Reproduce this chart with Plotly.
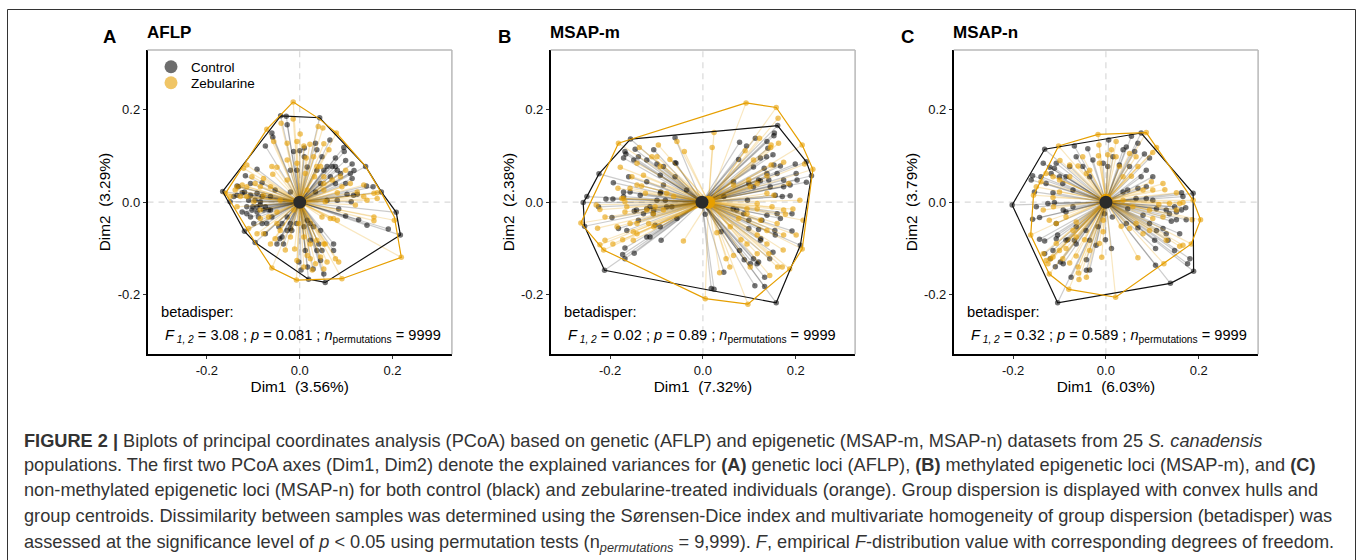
import plotly.graph_objects as go

W, H = 1358, 560
FONT = "Liberation Sans"
BLACK = "#000000"
ORANGE = "#E69F00"

PANEL_LETTERS = ["A", "B", "C"]
PANEL_TITLES = ["AFLP", "MSAP-m", "MSAP-n"]
DIM1_LABELS = ["Dim1\u00a0\u00a0(3.56%)", "Dim1\u00a0\u00a0(7.32%)", "Dim1\u00a0\u00a0(6.03%)"]
DIM2_LABELS = ["Dim2\u00a0\u00a0(3.29%)", "Dim2\u00a0\u00a0(2.38%)", "Dim2\u00a0\u00a0(3.79%)"]
STAT_F = ["3.08", "0.02", "0.32"]
STAT_P = ["0.081", "0.89", "0.589"]
STAT_N = ["9999", "9999", "9999"]
TICK_VALUES = [-0.2, 0.0, 0.2]
TICK_LABELS = ["-0.2", "0.0", "0.2"]
GROUPS = ["Control", "Zebularine"]

CENTROID_CONTROL = [(0.0, 0.0), (-0.002, 0.0), (0.0, 0.0)]
CENTROID_ZEBULARINE = [(0.0, 0.0), (0.012, 0.0), (0.0, 0.004)]

AFLP_CONTROL = [(-.041,.186),(-.029,.185),(.043,.182),(-.060,.149),(-.058,.140),(-.074,.121),(-.027,.167),(.010,.117),(-.013,.109),(0,.111),(.034,.127),(.065,.134),(.095,.118),(.096,.109),(.037,.113),(.048,.098),(.010,.098),(.077,.095),(.099,.090),(.113,.082),(.142,.077),(.081,.069),(.117,.068),(.099,.040),(.113,.051),(.158,.033),(.176,.022),(.144,.035),(.124,.017),(.102,.017),(.077,.040),(.059,.077),(.066,.055),(.034,.022),(.045,.040),(.208,-.022),(.217,-.071),(.191,-.058),(.145,-.050),(.127,-.038),(.099,-.030),(.084,-.015),(.111,.001),(.059,.004),(-.166,.023),(-.135,.035),(-.117,.057),(-.092,.071),(-.081,.042),(-.106,.040),(-.135,.015),(-.119,.022),(-.124,-.021),(-.103,-.017),(-.085,-.006),(-.074,-.010),(-.099,-.046),(-.071,-.046),(-.119,-.063),(-.096,-.087),(-.074,-.068),(-.060,-.032),(-.106,.015),(-.092,-.021),(-.150,.001),(-.063,.012),(-.053,.026),(-.020,.069),(-.020,.022),(-.049,-.090),(-.035,-.090),(-.043,-.079),(-.017,-.061),(-.020,-.046),(.016,-.039),(.023,-.046),(.045,-.061),(.073,-.090),(.037,-.104),(.045,-.126),(.003,-.146),(.017,-.140),(.029,-.144),(.019,-.166),(.055,-.173),(.052,-.155),(-.002,-.129),(.012,-.104),(.023,-.082),(-.114,-.010),(-.096,.004),(-.081,.012),(-.067,-.017),(-.045,-.053),(-.027,-.032),
(-.142,.012),(-.132,.033),(-.124,.020),(-.110,.004),(-.101,-.010),(-.092,-.010),(-.078,-.017),(-.114,-.025),(-.106,-.032),(-.089,-.032),(-.081,-.046),(-.063,-.017),(-.092,.019),(-.085,.001),(-.038,-.046),(-.027,-.061),(-.038,-.075),(-.020,-.057),(-.007,-.046),(.009,-.053),(.030,-.053),(.041,-.090),(.048,-.104),(.073,-.104),(.070,.077),(.088,.062),(.109,.062),(.077,.077),(.116,.015),(.081,.004),(.052,.069),(.037,.069),(.016,.076),(-.006,.069)]
AFLP_ZEBULARINE = [(-.014,.216),(-.071,.157),(-.040,.170),(-.014,.179),(.040,.163),(.050,.160),(.079,.149),(.001,.147),(-.056,.131),(-.027,.127),(-.006,.131),(.009,.121),(.022,.125),(.052,.126),(.063,.113),(.030,.098),(.014,.095),(-.060,.077),(-.049,.075),(-.058,.060),(-.114,.080),(-.121,.073),(-.103,.055),(-.078,.051),(-.085,.033),(-.124,.037),(-.139,.026),(-.160,.019),(-.150,.012),(-.114,.012),(-.063,.033),(-.027,.048),(.012,.062),(.045,.077),(.070,.048),(.099,.069),(.091,.033),(.138,.037),(.167,.020),(.167,.008),(.138,.012),(.120,-.006),(.055,.001),(.204,-.039),(.160,-.032),(.160,-.040),(.081,-.039),(.066,-.035),(.048,-.032),(.219,-.119),(.091,-.165),(.084,-.129),(.059,-.129),(.052,-.144),(.034,-.133),(.027,-.146),(-.007,-.168),(-.060,-.142),(-.006,-.126),(.016,-.115),(.009,-.140),(-.011,-.101),(-.031,-.103),(-.053,-.079),(-.078,-.068),(-.110,-.057),(-.085,-.035),(-.135,-.010),(-.099,.001),(-.049,-.046),(.009,-.075),(.037,-.082),(-.013,-.017),(-.042,.004),(-.049,-.021),(.016,.026),(.052,.026),(.081,.020),(.032,.055),(.052,.040),
(-.128,.012),(-.135,.033),(-.114,.033),(-.096,.040),(-.078,.015),(-.085,-.017),(-.067,-.032),(-.092,-.068),(-.063,-.090),(-.042,-.061),(-.020,-.075),(-.002,-.046),(.023,-.090),(.052,-.090),(.045,-.118),(.077,-.122),(.023,-.122),(.055,-.090),(-.027,.091),(-.006,.084),(.037,.077),(.052,.055),(.088,.055),(.109,.040),(.124,.022),(.145,.004),(.160,.019),(.073,-.035)]
AFLP_HULL_CONTROL = [(-.166,.023),(-.041,.186),(.043,.182),(.142,.077),(.176,.022),(.208,-.022),(.217,-.071),(.055,-.173),(.019,-.166),(-.096,-.087),(-.119,-.063)]
AFLP_HULL_ZEBULARINE = [(-.014,.216),(.043,.179),(.079,.149),(.142,.077),(.176,.020),(.204,-.032),(.219,-.119),(.091,-.165),(-.007,-.168),(-.060,-.142),(-.096,-.087),(-.160,.019),(-.071,.157)]

MSAPM_CONTROL = [(.161,.165),(.154,.149),(.153,.143),(.113,.138),(.138,.131),(.079,.129),(.094,.121),(.140,.116),(.137,.098),(.151,.102),(.077,.092),(.124,.095),(.132,.073),(.153,.080),(.167,.078),(.199,.082),(.201,.062),(.223,.043),(.188,.037),(.174,.048),(.142,.048),(.124,.046),(.099,.040),(.109,.033),(.156,.015),(.188,.014),(.171,.012),(.096,.004),(.045,.012),(.145,.033),(.223,.087),(.234,.057),(.065,-.014),(.088,-.025),(.127,-.039),(.099,-.039),(.099,-.057),(.120,-.059),(.155,-.061),(.192,-.062),(.156,-.071),(.125,-.079),(.151,-.108),(.079,-.104),(.210,-.093),(.089,-.124),(.102,-.133),(.120,-.129),(.144,-.122),(.045,-.151),(.112,-.180),(.133,-.162),(.133,-.182),(.158,-.217),(.018,-.186),(.024,-.188),(.005,-.026),(.039,-.064),(-.156,.136),(-.060,.139),(-.146,.114),(-.168,.109),(-.166,.104),(-.139,.098),(-.106,.113),(-.099,.082),(-.060,.085),(-.058,.084),(-.224,.061),(-.193,.042),(-.160,.055),(-.121,.044),(-.092,.058),(-.085,.037),(-.171,.022),(-.135,.015),(-.092,.019),(-.035,.026),(-.258,-.001),(-.250,.012),(-.209,.007),(-.194,.007),(-.225,-.010),(-.255,-.052),(-.196,-.033),(-.148,-.019),(-.139,-.039),(-.121,-.014),(-.106,-.017),(-.078,-.010),(-.182,-.057),(-.164,-.061),(-.103,-.050),(-.092,-.053),(-.121,-.075),(-.090,-.082),(-.168,-.099),(-.148,-.110),(-.173,-.113),(-.168,-.122),(-.212,-.147),(-.056,-.035),
(-.171,.012),(-.157,.022),(-.143,-.017),(-.128,-.025),(-.114,-.010),(-.107,-.025),(-.099,.004),(-.081,.004),(-.091,.022),(-.067,-.010),(-.149,.091),(-.171,.095),(-.121,.091),(-.085,.077),(-.060,.055),(-.114,-.075),(.109,.076),(.120,.048),(.138,.062),(.160,.062),(.174,.033),(.203,.048),(.192,-.025),(.160,-.025),(.138,-.028),(.124,-.082),(.109,-.122),(.117,-.133),(.167,-.035),(.073,-.017),(.066,.044)]
MSAPM_ZEBULARINE = [(.093,.214),(.158,.204),(.162,.181),(.024,.150),(.020,.118),(-.056,.131),(-.040,.109),(-.182,.127),(-.096,.123),(-.137,.118),(-.110,.098),(-.071,.092),(-.178,.075),(-.142,.084),(-.153,.055),(-.128,.058),(-.092,.077),(-.183,.030),(-.157,.030),(-.132,.035),(-.171,.008),(-.168,.001),(-.230,-.006),(-.222,-.016),(-.211,-.032),(-.263,-.045),(-.227,-.056),(-.211,-.082),(-.194,-.090),(-.222,-.092),(-.214,-.103),(-.173,-.081),(-.150,-.082),(-.142,-.068),(-.117,-.046),(-.106,-.053),(-.103,-.010),(-.168,-.021),(-.157,-.046),(-.042,-.084),(-.121,-.017),(-.063,.012),(.214,.123),(.237,.071),(.174,.086),(.147,.080),(.109,.091),(.122,.138),(.091,.111),(.147,.123),(.163,.127),(.185,.040),(.138,.057),(.099,.048),(.066,.037),(.219,.082),(.209,.004),(.117,-.003),(.117,-.014),(.149,-.010),(.194,-.015),(.178,-.026),(.095,-.014),(.216,-.039),(.201,-.071),(.174,-.071),(.214,-.101),(.173,-.103),(.117,-.071),(.082,-.081),(.066,-.115),(.142,-.111),(.036,-.152),(.058,-.140),(.102,-.140),(.161,-.140),(.171,-.140),(.187,-.144),(.144,-.158),(.097,-.220),(.005,-.208),(.030,-.066),(.050,-.122),
(-.142,.037),(-.099,.098),(-.175,.008),(-.164,-.010),(-.142,-.046),(-.185,-.053),(-.150,-.064),(-.107,-.025),(-.085,-.017),(-.078,.019),(-.124,.019),(.153,.015),(.138,.019),(.102,.033),(.117,.040),(.174,-.017),(.160,-.046),(.138,-.061),(.124,-.039),(.095,-.025),(.077,-.035),(.095,-.090),(.117,-.111),(.138,-.090),(.059,-.053),(.146,.118)]
MSAPM_HULL_CONTROL = [(-.258,-.001),(-.250,.012),(-.224,.061),(-.156,.136),(.161,.165),(.223,.087),(.234,.057),(.210,-.093),(.158,-.217),(-.212,-.147),(-.255,-.052)]
MSAPM_HULL_ZEBULARINE = [(.093,.214),(.158,.204),(.214,.123),(.237,.071),(.214,-.101),(.187,-.144),(.097,-.220),(.005,-.208),(-.214,-.103),(-.263,-.045),(-.182,.127)]

MSAPN_CONTROL = [(-.132,.114),(-.068,.121),(-.039,.115),(.006,.134),(.076,.149),(.055,.142),(.037,.113),(.069,.127),(.062,.109),(-.028,.091),(-.064,.098),(-.006,.084),(.029,.080),(.083,.104),(.094,.095),(-.135,.084),(-.121,.075),(-.111,.073),(-.158,.057),(-.161,.048),(-.118,.062),(-.086,.055),(-.093,.040),(-.129,.040),(-.154,.022),(-.114,.020),(-.071,.026),(-.202,-.006),(.101,.055),(.087,.033),(.069,.030),(.037,.022),(.163,.020),(.188,.019),(.065,.008),(.087,.008),(.172,-.012),(.152,-.021),(.137,-.025),(.173,-.038),(.152,-.038),(.141,-.041),(.109,-.014),(.080,-.028),(.047,-.014),(-.158,-.037),(-.143,-.033),(-.086,-.021),(-.071,-.010),(-.111,-.001),(.123,-.057),(.109,-.061),(.069,-.055),(.044,-.046),(.014,-.032),(-.003,-.025),(-.143,-.080),(-.132,-.084),(-.107,-.079),(-.104,-.071),(-.082,-.081),(-.068,-.082),(-.035,-.082),(-.001,-.081),(-.021,-.093),(.012,-.100),(.107,-.100),(.134,-.082),(.148,-.104),(.181,-.122),(.176,-.133),(.189,-.149),(.139,-.175),(.107,-.136),(-.132,-.111),(-.114,-.104),(-.098,-.129),(-.109,-.139),(-.075,-.162),(-.042,-.147),(-.035,-.146),(-.104,-.217),(-.042,-.124),(-.064,-.090),
(-.140,.055),(-.107,.084),(-.100,.055),(-.078,.077),(-.050,.077),(-.035,.055),(.004,.077),(.015,.098),(.044,.119),(.051,.077),(.076,.055),(.087,.069),(.047,.026),(.101,.004),(.130,-.017),(.148,-.010),(.163,-.017),(.166,.012),(.094,-.046),(.105,-.082),(.130,-.068),(.159,-.068),(-.150,-.010),(-.107,-.046),(-.064,-.053),(-.086,-.082),(-.120,-.122),(-.092,-.133),(-.043,-.061),(-.017,-.053),(-.092,-.017),(-.125,-.003)]
MSAPN_ZEBULARINE = [(-.017,.146),(.087,.150),(-.102,.121),(.022,.131),(-.015,.123),(.109,.118),(.101,.107),(-.016,.100),(.004,.102),(.012,.113),(-.050,.098),(-.099,.090),(-.078,.080),(-.060,.078),(-.035,.069),(.029,.077),(.055,.056),(-.140,.044),(-.100,.048),(-.129,.062),(-.156,.015),(-.100,.022),(-.114,.010),(.123,.040),(.127,.027),(.098,.044),(.080,.026),(.152,.020),(.166,-.001),(.114,-.005),(.188,.004),(.204,-.038),(.186,-.038),(.123,-.032),(.101,-.035),(-.113,-.010),(-.135,-.017),(-.122,-.039),(-.064,-.043),(.033,-.052),(.051,-.057),(-.162,-.071),(-.006,-.064),(-.046,-.081),(.184,-.090),(.166,-.093),(.159,-.095),(.069,-.120),(.125,-.133),(-.009,-.119),(-.135,-.111),(-.125,-.133),(-.119,-.122),(-.129,-.126),(-.114,-.118),(-.093,-.122),(-.078,-.131),(-.122,-.155),(-.080,-.188),(-.060,-.140),(-.059,-.153),(-.058,-.167),(.021,-.205),(-.086,-.100),(-.064,-.075),(-.006,-.039),(.058,-.010),(.037,.004),(.069,.077),
(-.150,.033),(-.114,.055),(-.078,.055),(-.042,.062),(-.014,.084),(.022,.098),(.051,.105),(.065,.098),(.037,.055),(.101,.026),(.137,-.003),(.152,-.017),(.159,-.003),(.094,-.017),(.065,-.046),(.094,-.061),(.080,-.068),(.130,-.082),(-.107,-.046),(-.086,-.032),(-.071,-.061),(-.035,-.104),(-.014,-.089),(-.100,-.104),(-.064,-.116),(-.107,-.089),(-.042,-.162)]
MSAPN_HULL_CONTROL = [(-.202,-.006),(-.132,.114),(.076,.149),(.188,.019),(.189,-.149),(.139,-.175),(-.104,-.217)]
MSAPN_HULL_ZEBULARINE = [(-.102,.121),(-.017,.146),(.087,.150),(.109,.118),(.188,.004),(.204,-.038),(.184,-.090),(.021,-.205),(-.080,-.188),(-.122,-.155),(-.162,-.071),(-.156,.015)]

CONTROLS = [AFLP_CONTROL, MSAPM_CONTROL, MSAPN_CONTROL]
ZEBULARINES = [AFLP_ZEBULARINE, MSAPM_ZEBULARINE, MSAPN_ZEBULARINE]
HULLS_CONTROL = [AFLP_HULL_CONTROL, MSAPM_HULL_CONTROL, MSAPN_HULL_CONTROL]
HULLS_ZEBULARINE = [AFLP_HULL_ZEBULARINE, MSAPM_HULL_ZEBULARINE, MSAPN_HULL_ZEBULARINE]

CAPTION = [
    "<b>FIGURE 2 |</b> Biplots of principal coordinates analysis (PCoA) based on genetic (AFLP) and epigenetic (MSAP-m, MSAP-n) datasets from 25 <i>S. canadensis</i>",
    "populations. The first two PCoA axes (Dim1, Dim2) denote the explained variances for <b>(A)</b> genetic loci (AFLP), <b>(B)</b> methylated epigenetic loci (MSAP-m), and <b>(C)</b>",
    "non-methylated epigenetic loci (MSAP-n) for both control (black) and zebularine-treated individuals (orange). Group dispersion is displayed with convex hulls and",
    "group centroids. Dissimilarity between samples was determined using the S\u00f8rensen-Dice index and multivariate homogeneity of group dispersion (betadisper) was",
    "assessed at the significance level of <i>p</i> &lt; 0.05 using permutation tests (n<sub><i>permutations</i></sub> = 9,999). <i>F</i>, empirical <i>F</i>-distribution value with corresponding degrees of freedom.",
]
CAPTION_Y = [441, 465, 490, 516, 543]

PANEL_LEFT = [147.5, 550.7, 953.7]
PANEL_WIDTH = 304.4
PANEL_TOP, PANEL_BOTTOM = 50.0, 354.3
AX_RANGE = [-0.328, 0.328]


def px(x): return x / W
def py(y): return 1 - y / H


fig = go.Figure()


def spokes(points, centre):
    xs, ys = [], []
    for x, y in points:
        xs += [x, centre[0], None]
        ys += [y, centre[1], None]
    return xs, ys


annotations = []
shapes = [dict(type="rect", xref="paper", yref="paper", x0=px(7.5), x1=px(1355.5), y0=-0.1, y1=py(9.5),
               line=dict(color="#333333", width=1), layer="below")]
layout_axes = {}

for i in range(3):
    s = "" if i == 0 else str(i + 1)
    xa, ya = "x" + s, "y" + s
    left = PANEL_LEFT[i]
    layout_axes["xaxis" + s] = dict(
        domain=[px(left), px(left + PANEL_WIDTH)], range=AX_RANGE, anchor=ya,
        tickmode="array", tickvals=TICK_VALUES, ticktext=TICK_LABELS,
        showgrid=False, zeroline=False, showline=True, linecolor=BLACK, linewidth=1.5,
        ticks="outside", ticklen=3, tickcolor="#333333", tickfont=dict(size=13, color="#111111", family=FONT),
        title=dict(text=DIM1_LABELS[i], font=dict(size=15.4, color=BLACK, family=FONT), standoff=2),
    )
    layout_axes["yaxis" + s] = dict(
        domain=[py(PANEL_BOTTOM), py(PANEL_TOP)], range=AX_RANGE, anchor=xa,
        tickmode="array", tickvals=TICK_VALUES, ticktext=TICK_LABELS,
        showgrid=False, zeroline=False, showline=True, linecolor=BLACK, linewidth=1.5,
        ticks="outside", ticklen=3, tickcolor="#333333", tickfont=dict(size=13, color="#111111", family=FONT),
        title=dict(text=DIM2_LABELS[i], font=dict(size=15.4, color=BLACK, family=FONT), standoff=3),
    )
    xd, yd = xa + " domain", ya + " domain"
    shapes += [
        dict(type="line", xref=xd, yref=yd, x0=0, x1=1, y0=1, y1=1, line=dict(color="#b8b8b8", width=1.5)),
        dict(type="line", xref=xd, yref=yd, x0=1, x1=1, y0=0, y1=1, line=dict(color="#b8b8b8", width=1.5)),
        dict(type="line", xref=xd, yref=ya, x0=0, x1=1, y0=0, y1=0, layer="below",
             line=dict(color="#d9d9d9", width=1.2, dash="6px,5px")),
        dict(type="line", xref=xa, yref=yd, x0=0, x1=0, y0=0, y1=1, layer="below",
             line=dict(color="#d9d9d9", width=1.2, dash="6px,5px")),
    ]

    for pts, centre, rgb, seg_a, pt_a in [
        (CONTROLS[i], CENTROID_CONTROL[i], "0,0,0", 0.2, 0.55),
        (ZEBULARINES[i], CENTROID_ZEBULARINE[i], "230,159,0", 0.25, 0.6),
    ]:
        sx, sy = spokes(pts, centre)
        fig.add_trace(go.Scatter(x=sx, y=sy, mode="lines", xaxis=xa, yaxis=ya, showlegend=False,
                                 hoverinfo="skip", line=dict(color=f"rgba({rgb},{seg_a})", width=1.2)))
        fig.add_trace(go.Scatter(x=[p[0] for p in pts], y=[p[1] for p in pts], mode="markers",
                                 xaxis=xa, yaxis=ya, showlegend=False,
                                 marker=dict(size=5.5, color=f"rgba({rgb},{pt_a})", line=dict(width=0))))

    for hull, col in [(HULLS_CONTROL[i], "#111111"), (HULLS_ZEBULARINE[i], ORANGE)]:
        closed = hull + hull[:1]
        fig.add_trace(go.Scatter(x=[p[0] for p in closed], y=[p[1] for p in closed], mode="lines",
                                 xaxis=xa, yaxis=ya, showlegend=False, hoverinfo="skip",
                                 line=dict(color=col, width=1.2)))

    fig.add_trace(go.Scatter(x=[CENTROID_ZEBULARINE[i][0]], y=[CENTROID_ZEBULARINE[i][1]], mode="markers",
                             xaxis=xa, yaxis=ya, showlegend=False,
                             marker=dict(size=13, color=ORANGE, line=dict(width=0))))
    fig.add_trace(go.Scatter(x=[CENTROID_CONTROL[i][0]], y=[CENTROID_CONTROL[i][1]], mode="markers",
                             xaxis=xa, yaxis=ya, showlegend=False,
                             marker=dict(size=13, color="#2b2b2b", line=dict(width=0))))

    letter_x = [109, 504, 908][i]
    annotations.append(dict(text=f"<b>{PANEL_LETTERS[i]}</b>", x=px(letter_x), y=py(36), xref="paper", yref="paper",
                            xanchor="center", yanchor="middle", showarrow=False,
                            font=dict(size=18.5, color=BLACK, family=FONT)))
    annotations.append(dict(text=f"<b>{PANEL_TITLES[i]}</b>", x=px(left - 3), y=py(32), xref="paper", yref="paper",
                            xanchor="left", yanchor="middle", showarrow=False,
                            font=dict(size=17, color=BLACK, family=FONT)))
    annotations.append(dict(text="betadisper:", x=px(left + 11), y=py(312), xref="paper", yref="paper",
                            xanchor="left", yanchor="middle", showarrow=False,
                            font=dict(size=14.7, color=BLACK, family=FONT)))
    annotations.append(dict(
        text=f"<i>F</i><sub><i> 1, 2</i></sub> = {STAT_F[i]} ; <i>p</i> = {STAT_P[i]} ; <i>n</i><sub>permutations</sub> = {STAT_N[i]}",
        x=px(left + 15), y=py(336), xref="paper", yref="paper", xanchor="left", yanchor="middle",
        showarrow=False, font=dict(size=14.6, color=BLACK, family=FONT)))

# one legend per entry, so each row sits where the reference has it
LEGEND_ROW_Y = [67, 83]
legend_layout = {}
for k, (name, col) in enumerate(zip(GROUPS, ["rgba(60,60,60,0.75)", "rgba(230,159,0,0.6)"])):
    key = "legend" if k == 0 else f"legend{k + 1}"
    fig.add_trace(go.Scatter(x=[None], y=[None], mode="markers", name=name, xaxis="x", yaxis="y", legend=key,
                             marker=dict(size=13, color=col, line=dict(width=0))))
    legend_layout[key] = dict(x=px(151), y=py(LEGEND_ROW_Y[k]), xanchor="left", yanchor="middle",
                              bgcolor="rgba(0,0,0,0)", borderwidth=0,
                              font=dict(size=13.5, color=BLACK, family=FONT), itemsizing="trace")

for line, y in zip(CAPTION, CAPTION_Y):
    annotations.append(dict(text=line, x=px(22), y=py(y), xref="paper", yref="paper", xanchor="left",
                            yanchor="middle", showarrow=False, font=dict(size=18.2, color="#333333", family=FONT)))

fig.update_layout(
    width=W, height=H, margin=dict(l=0, r=0, t=0, b=0), paper_bgcolor="white", plot_bgcolor="white",
    font=dict(family=FONT), shapes=shapes, annotations=annotations,
    **legend_layout, **layout_axes,
)

fig.write_html("out.html", post_script="document.body.style.margin='0';", config={"displayModeBar": False})
